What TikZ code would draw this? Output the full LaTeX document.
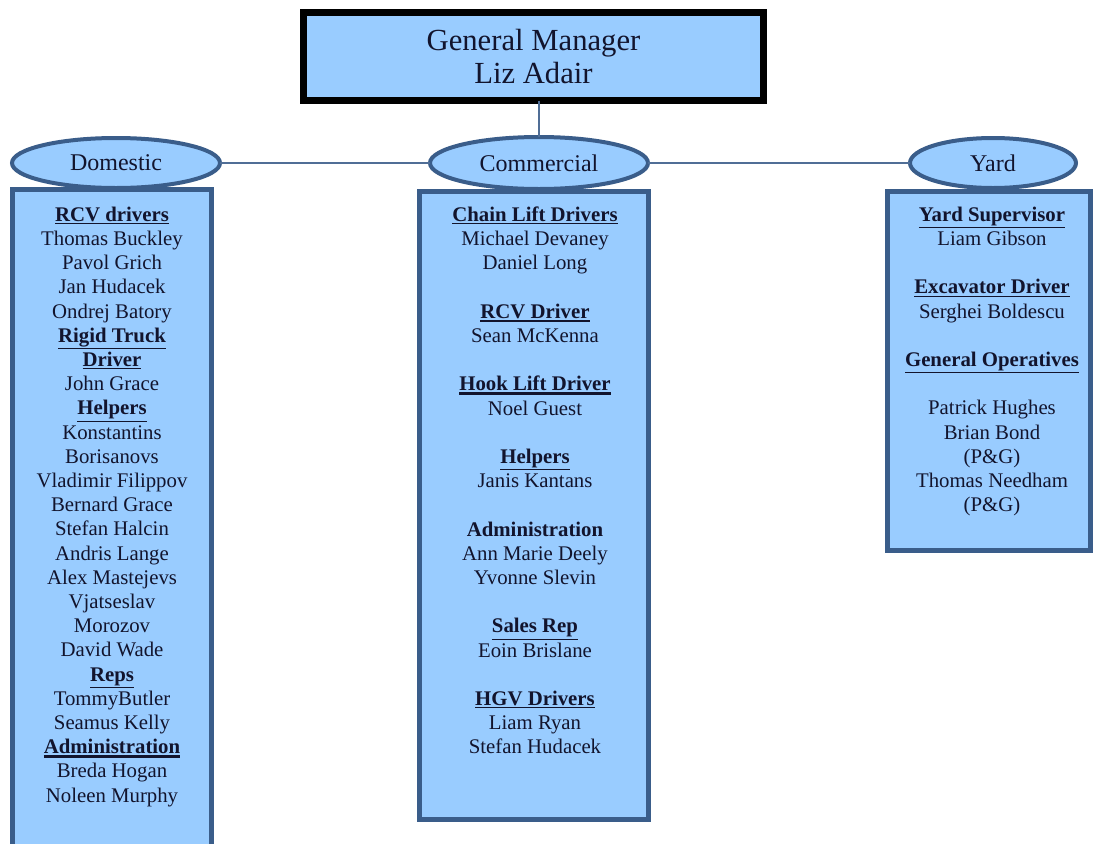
\documentclass[tikz,border=0pt]{standalone}
\usepackage{fontspec}
\setmainfont{Liberation Serif}
\usetikzlibrary{shapes.geometric}
\definecolor{boxfill}{RGB}{153,204,255}
\definecolor{boxline}{RGB}{58,93,138}
\definecolor{linkcol}{RGB}{80,110,150}
\definecolor{txt}{RGB}{18,20,45}
\newcommand\hd[1]{\textbf{\underline{#1}}}
\newcommand\hdk[1]{\setbox0\hbox{\bfseries #1}\rlap{\rule[-3.2pt]{\wd0}{2.2pt}}\box0}
\tikzset{
  gmbox/.style={draw=black, line width=5.25pt, fill=boxfill, rectangle, outer sep=0pt,
    minimum width=345pt, minimum height=66pt, align=center, text=txt,
    font=\fontsize{23}{24.75}\selectfont},
  dept/.style={ellipse, draw=boxline, line width=3pt, fill=boxfill, outer sep=0pt,
    text=txt, font=\fontsize{18}{20}\selectfont, inner sep=0pt},
  colbox/.style={rectangle, draw=boxline, line width=3.75pt, fill=boxfill, outer sep=0pt,
    anchor=north west, inner sep=0pt},
  coltext/.style={align=center, inner sep=0pt, anchor=north, text=txt,
    font=\fontsize{15.6}{18.15}\selectfont},
  link/.style={draw=linkcol, line width=1.1pt}
}
\begin{document}
\begin{tikzpicture}[x=0.75pt,y=-0.75pt]
\fill[white] (0,0) rectangle (1096,843);
\clip (0,0) rectangle (1096,843);

% column boxes
\node[colbox, minimum width=149.25pt, minimum height=525pt] (dombox) at (12.5,189.5) {};
\node[colbox, minimum width=171.75pt, minimum height=471pt] (combox) at (419.5,191.5) {};
\node[colbox, minimum width=152.25pt, minimum height=269.25pt] (yardbox) at (887.5,191.5) {};

% top box
\node[gmbox] (gm) at (533.5,56.5) {General Manager\\Liz Adair};

% department ellipses
\node[dept, minimum width=156pt, minimum height=37.5pt] (dom) at (116,163) {Domestic};
\node[dept, minimum width=163.5pt, minimum height=39pt] (com) at (539,163) {Commercial};
\node[dept, minimum width=124.5pt, minimum height=37.5pt] (yard) at (993,163) {Yard};

% connectors
\draw[link] (gm.south -| com.north) -- (com.north);
\draw[link] (dom.east) -- (com.west);
\draw[link] (com.east) -- (yard.west);

% column texts
\node[coltext] (domtxt) at (112,206.5) {\hd{RCV drivers}\\ Thomas Buckley\\ Pavol Grich\\ Jan Hudacek\\ Ondrej Batory\\ \hd{Rigid Truck}\\ \hd{Driver}\\ John Grace\\ \hd{Helpers}\\ Konstantins\\ Borisanovs\\ Vladimir Filippov\\ Bernard Grace\\ Stefan Halcin\\ Andris Lange\\ Alex Mastejevs\\ Vjatseslav\\ Morozov\\ David Wade\\ \hd{Reps}\\ TommyButler\\ Seamus Kelly\\ \hdk{Administration}\\ Breda Hogan\\ Noleen Murphy};

\node[coltext] (comtxt) at (535,206.5) {\hd{Chain Lift Drivers}\\ Michael Devaney\\ Daniel Long\\ \mbox{}\\ \hdk{RCV Driver}\\ Sean McKenna\\ \mbox{}\\ \hdk{Hook Lift Driver}\\ Noel Guest\\ \mbox{}\\ \hd{Helpers}\\ Janis Kantans\\ \mbox{}\\ \textbf{Administration}\\ Ann Marie Deely\\ Yvonne Slevin\\ \mbox{}\\ \hd{Sales Rep}\\ Eoin Brislane\\ \mbox{}\\ \hd{HGV Drivers}\\ Liam Ryan\\ Stefan Hudacek};

\node[coltext] (yardtxt) at (992,206.5) {\hd{Yard Supervisor}\\ Liam Gibson\\ \mbox{}\\ \hd{Excavator Driver}\\ Serghei Boldescu\\ \mbox{}\\ \hd{General Operatives}\\ \mbox{}\\ Patrick Hughes\\ Brian Bond\\ (P\&G)\\ Thomas Needham\\ (P\&G)};
\end{tikzpicture}
\end{document}
